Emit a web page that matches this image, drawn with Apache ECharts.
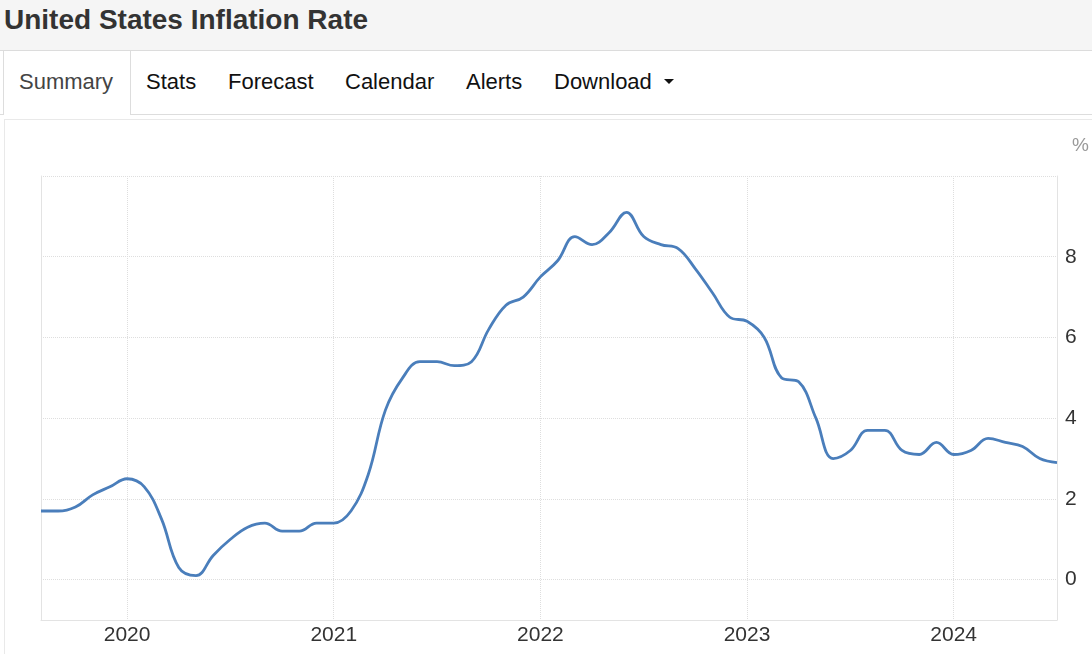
<!DOCTYPE html>
<html>
<head>
<meta charset="utf-8">
<script src="https://cdn.jsdelivr.net/npm/echarts@6/dist/echarts.min.js"></script>
<style>
  html, body { margin: 0; padding: 0; width: 1092px; height: 654px; overflow: hidden; background: #fff;
    font-family: "Liberation Sans", Arial, sans-serif; }
  #header { position: absolute; left: 0; top: 0; width: 1092px; height: 50px; background: #f5f5f5;
    border-bottom: 1px solid #dcdcdc; }
  #title { position: absolute; left: 4px; top: 4px; font-size: 28px; font-weight: bold; color: #333; }
  #tabs { position: absolute; left: 0; top: 51px; width: 1092px; height: 63px; border-bottom: 1px solid #ddd; }
  .tab { position: absolute; top: 0; height: 63px; line-height: 62px; font-size: 22px; color: #111; }
  .tab.active { color: #444; background: #fff; border-left: 1px solid #ddd; border-right: 1px solid #ddd;
    height: 64px; box-sizing: border-box; }
  #box { position: absolute; left: 4px; top: 119px; width: 1088px; height: 535px;
    border-top: 1px solid #e9e9e9; border-left: 1px solid #e9e9e9; }
  #chart { position: absolute; left: 0; top: 0; width: 1092px; height: 654px; }
  .caret { display: inline-block; width: 0; height: 0; margin-left: 12px; vertical-align: middle;
    border-top: 5px solid #111; border-left: 5px solid transparent; border-right: 5px solid transparent; position: relative; top: -2px; }
</style>
</head>
<body>
<div id="header"><div id="title">United States Inflation Rate</div></div>
<div id="tabs">
  <div class="tab active" style="left:3px; width:128px; padding-left:15px; box-sizing:border-box;">Summary</div>
  <div class="tab" style="left:146px;">Stats</div>
  <div class="tab" style="left:228px;">Forecast</div>
  <div class="tab" style="left:345px;">Calendar</div>
  <div class="tab" style="left:466px;">Alerts</div>
  <div class="tab" style="left:554px;">Download<span class="caret"></span></div>
</div>
<div id="box"></div>
<div id="chart"></div>
<script>
// Months from Aug 2019 to Jul 2024
const months = [
  'Aug 2019','Sep 2019','Oct 2019','Nov 2019','Dec 2019',
  'Jan 2020','Feb 2020','Mar 2020','Apr 2020','May 2020','Jun 2020','Jul 2020','Aug 2020','Sep 2020','Oct 2020','Nov 2020','Dec 2020',
  'Jan 2021','Feb 2021','Mar 2021','Apr 2021','May 2021','Jun 2021','Jul 2021','Aug 2021','Sep 2021','Oct 2021','Nov 2021','Dec 2021',
  'Jan 2022','Feb 2022','Mar 2022','Apr 2022','May 2022','Jun 2022','Jul 2022','Aug 2022','Sep 2022','Oct 2022','Nov 2022','Dec 2022',
  'Jan 2023','Feb 2023','Mar 2023','Apr 2023','May 2023','Jun 2023','Jul 2023','Aug 2023','Sep 2023','Oct 2023','Nov 2023','Dec 2023',
  'Jan 2024','Feb 2024','Mar 2024','Apr 2024','May 2024','Jun 2024','Jul 2024'
];
// Inflation rate, %
const inflation = [
  1.7, 1.7, 1.8, 2.1, 2.3,
  2.5, 2.3, 1.5, 0.3, 0.1, 0.6, 1.0, 1.3, 1.4, 1.2, 1.2, 1.4,
  1.4, 1.7, 2.6, 4.2, 5.0, 5.4, 5.4, 5.3, 5.4, 6.2, 6.8, 7.0,
  7.5, 7.9, 8.5, 8.3, 8.6, 9.1, 8.5, 8.3, 8.2, 7.7, 7.1, 6.5,
  6.4, 6.0, 5.0, 4.9, 4.0, 3.0, 3.2, 3.7, 3.7, 3.2, 3.1, 3.4,
  3.1, 3.2, 3.5, 3.4, 3.3, 3.0, 2.9
];
const yTickLabels = [0, 2, 4, 6, 8];
const yUnit = '%';

const isJan = (idx, val) => String(val).indexOf('Jan') === 0;

const chart = echarts.init(document.getElementById('chart'), null, { renderer: 'canvas' });
chart.setOption({
  animation: false,
  backgroundColor: 'transparent',
  textStyle: { fontFamily: '"Liberation Sans", Arial, sans-serif' },
  title: {
    text: yUnit, left: 1067, top: 131,
    textStyle: { fontSize: 19, color: '#999', fontWeight: 'normal' }
  },
  grid: { left: 41, right: 35, top: 176, bottom: 34, containLabel: false },
  xAxis: {
    type: 'category',
    data: months,
    boundaryGap: false,
    axisLine: { show: true, onZero: false, lineStyle: { color: '#e3e3e3', width: 1 } },
    axisTick: { show: false },
    axisLabel: {
      interval: isJan,
      formatter: v => v.slice(4),
      fontSize: 21, color: '#333', margin: 5
    },
    splitLine: {
      show: true, interval: isJan,
      lineStyle: { color: '#dedede', type: 'dotted', width: 1 }
    }
  },
  yAxis: [{
    type: 'value',
    position: 'right',
    min: -1, max: 10, interval: 1,
    axisLine: { show: true, lineStyle: { color: '#e3e3e3', width: 1 } },
    axisTick: { show: false },
    axisLabel: {
      fontSize: 21, color: '#333', margin: 8,
      formatter: v => (yTickLabels.indexOf(v) >= 0 ? String(v) : '')
    },
    splitLine: {
      show: true,
      lineStyle: { color: ['transparent', '#dedede'], type: 'dotted', width: 1 }
    }
  }, {
    type: 'value',
    position: 'left',
    min: -1, max: 10, interval: 1,
    axisLine: { show: true, lineStyle: { color: '#e3e3e3', width: 1 } },
    axisTick: { show: false },
    axisLabel: { show: false },
    splitLine: { show: false }
  }],
  series: [{
    type: 'line',
    data: inflation,
    yAxisIndex: 0,
    smooth: 0.4,
    symbol: 'none',
    lineStyle: { color: '#4a7ebb', width: 2.8 },
    clip: false
  }]
});
</script>
</body>
</html>
